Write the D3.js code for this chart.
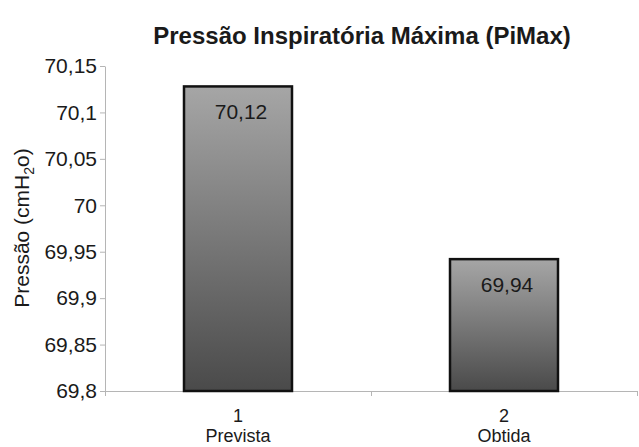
<!DOCTYPE html>
<html>
<head>
<meta charset="utf-8">
<script src="https://cdn.jsdelivr.net/npm/d3@7"></script>
<style>
  body { margin: 0; background: #fff; }
  text { font-family: "Liberation Sans", Arial, sans-serif; fill: #1a1a1a; }
</style>
</head>
<body>
<div id="chart"></div>
<script>
var categories = ["1", "2"];
var subLabels = ["Prevista", "Obtida"];
var values = [70.128, 69.942];
var valueLabels = ["70,12", "69,94"];
var yTicks = [69.8, 69.85, 69.9, 69.95, 70, 70.05, 70.1, 70.15];
var yTickLabels = ["69,8", "69,85", "69,9", "69,95", "70", "70,05", "70,1", "70,15"];

var W = 639, H = 447;
var margin = {top: 66, right: 2, bottom: 56, left: 105},
    width = W - margin.left - margin.right,
    height = H - margin.top - margin.bottom;

var svg = d3.select("#chart").append("svg")
    .attr("width", W)
    .attr("height", H);

var defs = svg.append("defs");
var grad = defs.append("linearGradient")
    .attr("id", "barGrad")
    .attr("x1", 0).attr("y1", 0).attr("x2", 0).attr("y2", 1);
grad.append("stop").attr("offset", "0%").attr("stop-color", "#a6a6a6");
grad.append("stop").attr("offset", "100%").attr("stop-color", "#4a4a4a");

var g = svg.append("g")
    .attr("transform", "translate(" + margin.left + "," + margin.top + ")");

var y = d3.scaleLinear()
    .domain([69.8, 70.15])
    .range([height, 0]);

var x = d3.scaleBand()
    .domain(categories)
    .range([0, width])
    .paddingInner(0.594)
    .paddingOuter(0.297);

// tick marks between categories
var xEdges = d3.scaleLinear().domain([0, categories.length]).range([0, width]);

// title
svg.append("text")
    .attr("x", 362)
    .attr("y", 44)
    .attr("text-anchor", "middle")
    .style("font-size", "24px")
    .style("font-weight", "bold")
    .text("Pressão Inspiratória Máxima (PiMax)");

// y axis title
var yt = svg.append("text")
    .attr("transform", "translate(29,228) rotate(-90)")
    .attr("text-anchor", "middle")
    .style("font-size", "21px");
yt.append("tspan").text("Pressão (cmH");
yt.append("tspan").attr("dy", 5).style("font-size", "14px").text("2");
yt.append("tspan").attr("dy", -5).text("o)");

// y axis
var yAxis = g.append("g")
    .call(d3.axisLeft(y)
        .tickValues(yTicks)
        .tickFormat(function(d, i) { return yTickLabels[i]; })
        .tickSize(5)
        .tickSizeOuter(0));
yAxis.selectAll("line, path").attr("stroke", "#b5b5b5");
yAxis.selectAll("text")
    .attr("x", -8)
    .style("font-size", "21px")
    .style("fill", "#1a1a1a");

// x axis
var xAxis = g.append("g")
    .attr("transform", "translate(0," + height + ")")
    .call(d3.axisBottom(xEdges)
        .tickValues(d3.range(categories.length + 1))
        .tickFormat("")
        .tickSize(5)
        .tickSizeOuter(0));
xAxis.selectAll("line, path").attr("stroke", "#b5b5b5");

// bars
g.selectAll("rect.bar")
    .data(values)
    .enter().append("rect")
    .attr("class", "bar")
    .attr("x", function(d, i) { return x(categories[i]); })
    .attr("width", x.bandwidth())
    .attr("y", function(d) { return y(d); })
    .attr("height", function(d) { return height - y(d); })
    .attr("fill", "url(#barGrad)")
    .attr("stroke", "#111")
    .attr("stroke-width", 2.5);

// value labels
g.selectAll("text.val")
    .data(values)
    .enter().append("text")
    .attr("class", "val")
    .attr("x", function(d, i) { return x(categories[i]) + x.bandwidth() / 2 + 3; })
    .attr("y", function(d) { return y(d) + 33; })
    .attr("text-anchor", "middle")
    .style("font-size", "21px")
    .text(function(d, i) { return valueLabels[i]; });

// category labels: number on one line, name below
g.selectAll("text.cat")
    .data(categories)
    .enter().append("text")
    .attr("class", "cat")
    .attr("text-anchor", "middle")
    .attr("x", function(d) { return x(d) + x.bandwidth() / 2; })
    .attr("y", height + 31)
    .style("font-size", "18px")
    .text(function(d) { return d; });
g.selectAll("text.sub")
    .data(subLabels)
    .enter().append("text")
    .attr("class", "sub")
    .attr("text-anchor", "middle")
    .attr("x", function(d, i) { return x(categories[i]) + x.bandwidth() / 2; })
    .attr("y", height + 51)
    .style("font-size", "18px")
    .text(function(d) { return d; });
</script>
</body>
</html>
